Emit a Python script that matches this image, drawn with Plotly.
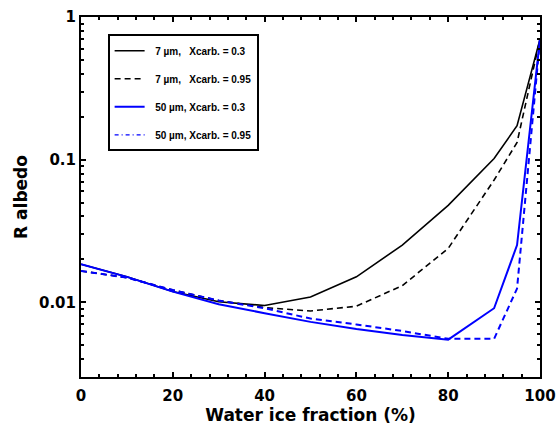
import plotly.graph_objects as go

ice_fraction = [0, 10, 20, 30, 40, 50, 60, 70, 80, 90, 95, 100]
r_7um_x03 = [0.0185, 0.0151, 0.0119, 0.0101, 0.0095, 0.0109, 0.0151, 0.0252, 0.0478, 0.102, 0.173, 0.70]
r_7um_x095 = [0.0166, 0.0149, 0.0122, 0.0103, 0.0092, 0.0087, 0.0094, 0.0131, 0.0239, 0.072, 0.132, 0.70]
r_50um_x03 = [0.0185, 0.0151, 0.0119, 0.0097, 0.0084, 0.0073, 0.0065, 0.0059, 0.00548, 0.0091, 0.0252, 0.70]
r_50um_x095 = [0.0166, 0.0149, 0.0122, 0.0103, 0.0091, 0.0077, 0.0070, 0.0063, 0.00555, 0.00555, 0.0125, 0.70]

labels = [
    "\u00a0\u00a07 \u00b5m,\u00a0\u00a0\u00a0Xcarb. = 0.3",
    "\u00a0\u00a07 \u00b5m,\u00a0\u00a0\u00a0Xcarb. = 0.95",
    "\u00a0\u00a050 \u00b5m, Xcarb. = 0.3",
    "\u00a0\u00a050 \u00b5m, Xcarb. = 0.95",
]
x_ticks = [0, 20, 40, 60, 80, 100]
y_ticks = [0.01, 0.1, 1]
y_ticktext = ["0.01", "0.1", "1"]

FONT = "DejaVu Sans, Arial, sans-serif"
LEG_FONT = "Liberation Sans, Arial, sans-serif"
BLUE = "rgb(0,0,255)"
fig = go.Figure()
fig.add_trace(go.Scatter(x=ice_fraction, y=r_7um_x03, mode="lines", name=labels[0],
                         legendgroup="a", line=dict(color="black", width=1.6)))
fig.add_trace(go.Scatter(x=ice_fraction, y=r_7um_x095, mode="lines", name=labels[1],
                         legendgroup="b", line=dict(color="black", width=1.6, dash="6px,4px")))
fig.add_trace(go.Scatter(x=ice_fraction, y=r_50um_x03, mode="lines", name=labels[2],
                         legendgroup="c", line=dict(color=BLUE, width=2)))
fig.add_trace(go.Scatter(x=ice_fraction, y=r_50um_x095, mode="lines", name=labels[3],
                         legendgroup="d", showlegend=False,
                         line=dict(color=BLUE, width=2, dash="6px,4px")))
fig.add_trace(go.Scatter(x=[None], y=[None], mode="lines", name=labels[3],
                         legendgroup="d", line=dict(color=BLUE, width=1.2, dash="4px,3px,1px,3px")))

fig.update_layout(
    width=558, height=426,
    margin=dict(l=81, r=18, t=17, b=49, autoexpand=False),
    plot_bgcolor="white", paper_bgcolor="white",
    font=dict(family=FONT, color="black"),
    showlegend=True,
    legend=dict(
        x=0.058, y=0.952, xanchor="left", yanchor="top",
        bordercolor="black", borderwidth=2, bgcolor="white",
        font=dict(family=LEG_FONT, size=10, color="black", weight="bold"),
        tracegroupgap=9, itemwidth=30,
    ),
    xaxis=dict(
        range=[0, 100], tickvals=x_ticks, ticks="inside", ticklen=5, tickwidth=1.5,
        tickcolor="black", showline=True, linecolor="black", linewidth=2, mirror="ticks",
        showgrid=False, zeroline=False, automargin=False, ticklabelstandoff=4,
        tickfont=dict(size=15, weight="bold", family=FONT),
        minor=dict(dtick=4, ticks="inside", ticklen=3, tickcolor="black", showgrid=False),
        title=dict(text="Water ice fraction (%)", standoff=0,
                   font=dict(size=17, weight="bold", family=FONT)),
    ),
    yaxis=dict(
        type="log", range=[-2.523, 0], tickvals=y_ticks, ticktext=y_ticktext,
        ticks="inside", ticklen=5, tickwidth=1.5, tickcolor="black",
        showline=True, linecolor="black", linewidth=2, mirror="ticks",
        showgrid=False, zeroline=False, automargin=False,
        tickfont=dict(size=15, weight="bold", family=FONT),
        minor=dict(dtick="D1", ticks="inside", ticklen=3, tickcolor="black", showgrid=False),
        title=dict(text="R albedo", standoff=7,
                   font=dict(size=17, weight="bold", family=FONT)),
    ),
)
fig.write_html(
    "out.html",
    config={"displayModeBar": False},
    post_script="document.body.style.margin='0';document.body.style.overflow='hidden';",
)
